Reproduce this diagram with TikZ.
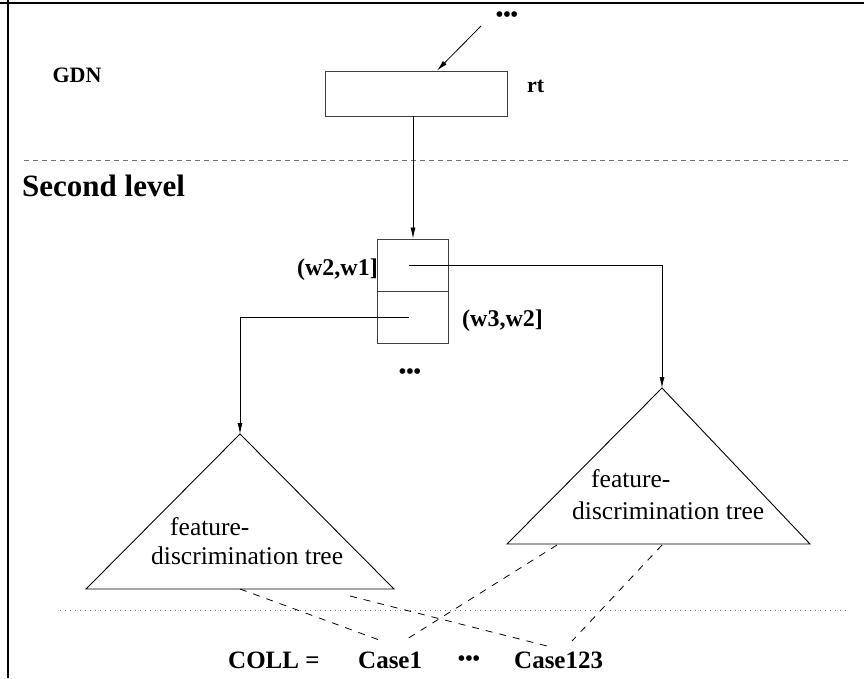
\documentclass[tikz,border=0pt]{standalone}
\usepackage{fontspec}
\setmainfont{Liberation Serif}
\usetikzlibrary{arrows.meta}
\begin{document}
\begin{tikzpicture}[x=1pt,y=-1pt,
  frameline/.style={line width=2.6pt, draw=black},
  boxline/.style={line width=0.9pt, draw=black!75},
  conn/.style={line width=0.8pt, draw=black},
  arr/.style={conn, -{Latex[length=11pt,width=5pt]}},
  tie/.style={line width=0.8pt, draw=black, dash pattern=on 7pt off 7pt},
  sepdash/.style={line width=0.8pt, draw=black!55, dash pattern=on 5pt off 4pt},
  sepdot/.style={line width=0.9pt, draw=black!55, dash pattern=on 1pt off 4pt},
  bold/.style={font=\fontsize{22}{25}\selectfont\bfseries, inner sep=0pt},
  slotlbl/.style={font=\fontsize{24}{27}\selectfont\bfseries, inner sep=0pt},
  colltxt/.style={font=\fontsize{25}{28}\selectfont\bfseries, inner sep=0pt, anchor=west},
  treetxt/.style={font=\fontsize{25.5}{29}\selectfont, inner sep=0pt, anchor=west},
  dots/.style={font=\fontsize{21}{24}\selectfont\bfseries, inner sep=0pt}
]
\useasboundingbox (0,0) rectangle (864,678);

% open frame: top edge and left edge only
\draw[frameline] (0,3) -- (864,3);
\draw[frameline] (8,0) -- (8,678);

% level separators
\draw[sepdash] (24,160) -- (848,160);
\draw[sepdot] (60,610) -- (850,610);

% labels of the two levels
\node[bold] (gdn) at (77,75) {GDN};
\node[font=\fontsize{31}{35}\selectfont\bfseries, inner sep=0pt, anchor=west] (second) at (22,186) {Second level};

% root record of the GDN
\node[boxline, minimum width=182pt, minimum height=45pt, inner sep=0pt] (rt) at (416,93.5) {};
\node[bold, anchor=west] (rtlbl) at (527,86) {rt};
\node[dots] (topdots) at (507,17) {•••};
\coordinate (topfrom) at (481,26);
\draw[arr] (topfrom) -- (rt.north -| 437,0);

% two-slot interval array of the second level
\node[boxline, minimum width=71pt, minimum height=52pt, inner sep=0pt] (slotA) at (412.5,265) {};
\node[boxline, minimum width=71pt, minimum height=52pt, inner sep=0pt] (slotB) at (412.5,317) {};
\node[slotlbl, anchor=east] (lblA) at (378,270) {(w2,w1]};
\node[slotlbl, anchor=west] (lblB) at (462,321) {(w3,w2]};
\node[dots] (middots) at (410,374) {•••};
\draw[arr] (rt.south -| 413,0) -- (slotA.north -| 413,0);

% discrimination trees
\coordinate (ltop) at (240,434);
\coordinate (lbl) at (86,589);
\coordinate (lbr) at (394,589);
\coordinate (rtop) at (662,388);
\coordinate (rbl) at (507,544);
\coordinate (rbr) at (810,544);
\draw[boxline, draw=black] (ltop) -- (lbr) -- (lbl) -- cycle;
\draw[boxline, draw=black] (rtop) -- (rbr) -- (rbl) -- cycle;
\node[treetxt] (lt1) at (170,527) {feature-};
\node[treetxt] (lt2) at (151,556) {discrimination tree};
\node[treetxt] (rt1) at (591,479) {feature-};
\node[treetxt] (rt2) at (572,511) {discrimination tree};

% slot pointers to the trees
\coordinate (pA) at (409,265);
\coordinate (pB) at (409,317);
\draw[arr] (pA) -| (rtop);
\draw[arr] (pB) -| (ltop);

% collection of cases
\node[colltxt] (coll) at (228,660) {COLL =};
\node[colltxt] (case1) at (358,660) {Case1};
\node[dots] (botdots) at (469,661) {•••};
\node[colltxt] (case123) at (514,660) {Case123};

% leaf links into the collection
\coordinate (e1) at (382,641);
\coordinate (e2) at (547,646);
\coordinate (e3) at (407,639);
\coordinate (e4) at (572,641);
\draw[tie] (240,589) -- (e1);
\draw[tie] (350,596) -- (e2);
\draw[tie] (557,545) -- (e3);
\draw[tie] (662,545) -- (e4);
\end{tikzpicture}
\end{document}
